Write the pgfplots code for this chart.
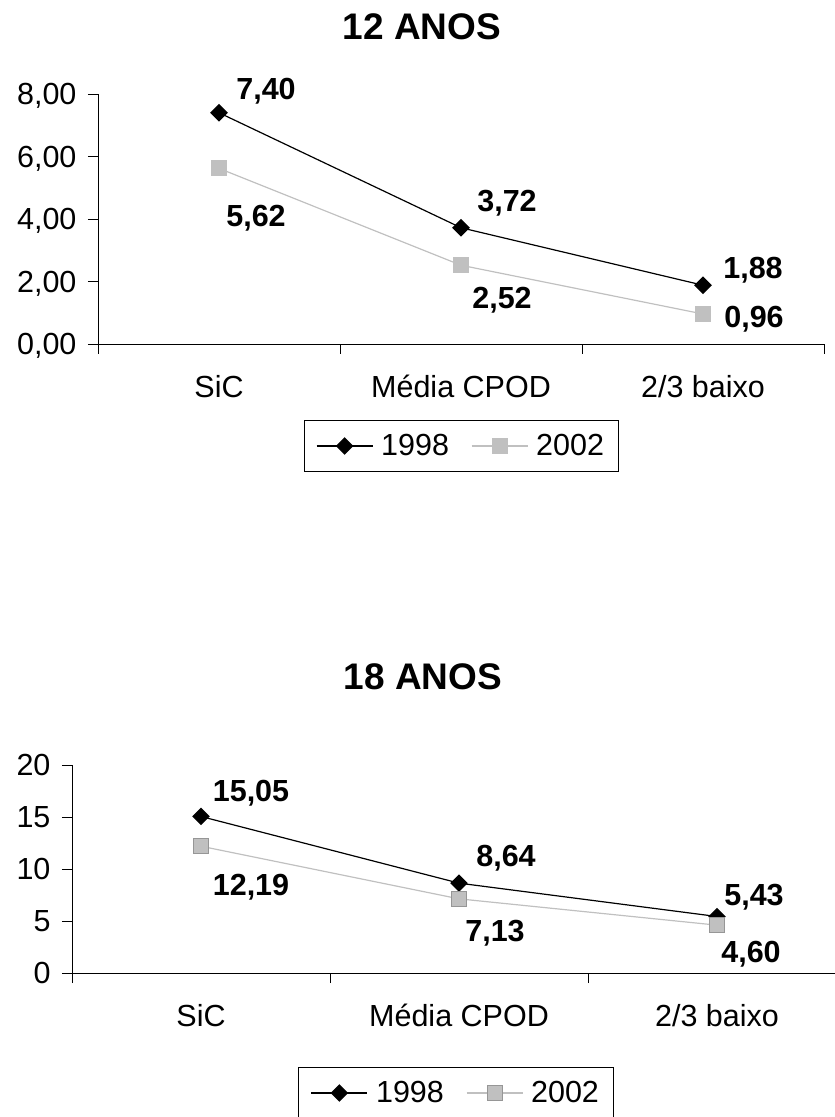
\documentclass[border=0pt]{standalone}
\usepackage{fontspec}
\setmainfont{Liberation Sans}
\usepackage{pgfplots}
\pgfplotsset{compat=1.18}
\usepackage{pgfplotstable}

\definecolor{cinza}{HTML}{C0C0C0}
\definecolor{cinzaborda}{HTML}{969696}

% x: 0 = SiC, 1 = Media CPOD, 2 = 2/3 baixo ; dx dy = label offset
\pgfplotstableread{
x y dx dy
0 7.40 47 24
1 3.72 46 27
2 1.88 50 17
}\dozeA
\pgfplotstableread{
x y dx dy
0 5.62 37 -47
1 2.52 41 -33
2 0.96 51 -3
}\dozeB
\pgfplotstableread{
x y dx dy
0 15.05 50 26
1 8.64 47 27
2 5.43 37 22
}\dezoitoA
\pgfplotstableread{
x y dx dy
0 12.19 50 -39
1 7.13 36 -32
2 4.60 34 -27
}\dezoitoB

\newcommand\fs{\fontsize{30.5}{36}\selectfont}

\pgfplotsset{
  anos/.style={
    scale only axis,
    axis x line*=bottom,
    axis y line*=left,
    xmin=-0.5, xmax=2.5, ymin=0,
    xtick={0,1,2},
    xticklabels={SiC, Média CPOD, 2/3 baixo},
    major x tick style={draw=none},
    minor xtick={-0.5,0.5,1.5,2.5},
    major tick length=10pt,
    minor tick length=10pt,
    tick align=outside,
    tick style={black, line width=0.8pt},
    axis line style={line width=0.8pt},
    every tick label/.append style={font=\fs, text depth=0pt},
    yticklabel style={xshift=-8pt},
    xticklabel style={yshift=-18pt},
    /pgf/number format/assume math mode=true,
    clip=false,
    title style={font=\bfseries\fontsize{37}{44}\selectfont, anchor=center, text depth=0pt},
    legend columns=2,
    legend style={draw=black, line width=0.8pt, font=\fs, anchor=center,
      inner xsep=12pt, inner ysep=12pt,
      /tikz/every odd column/.append style={column sep=6pt},
      /tikz/every even column/.append style={column sep=20pt}},
    legend image code/.code={%
      \draw[mark repeat=2,mark phase=2,##1] plot coordinates {(0pt,0pt) (28pt,0pt) (56pt,0pt)};},
    nodes near coords={\pgfmathprintnumber[fixed,fixed zerofill,precision=2,use comma]{\pgfplotspointmeta}},
    visualization depends on={\thisrow{dx} \as \dx},
    visualization depends on={\thisrow{dy} \as \dy},
    every node near coord/.append style={anchor=center, xshift=\dx pt, yshift=\dy pt,
      font=\bfseries\fs, text depth=0pt, black},
  },
  s98/.style={black, line width=1.2pt, mark=square*, mark size=5.6pt,
    mark options={rotate=45, fill=black, draw=black}},
}

\begin{document}
\begin{tikzpicture}
\useasboundingbox (0pt,0pt) rectangle (835pt,1117pt);

\begin{axis}[anos,
    at={(98pt,773pt)}, anchor=south west,
    width=726pt, height=250pt,
    ymax=8, ytick={0,2,4,6,8},
    yticklabel style={/pgf/number format/.cd, fixed, fixed zerofill, precision=2, use comma},
    title={12 ANOS}, title style={at={(0.446,1.245)}},
    legend style={at={(0.5,-0.408)}},
]
\addplot[s98] table[x=x, y=y] {\dozeA};
\addlegendentry{1998}
\addplot[cinza, line width=1.2pt, mark=square*, mark size=7.5pt,
    mark options={fill=cinza, draw=cinza}] table[x=x, y=y] {\dozeB};
\addlegendentry{2002}
\end{axis}

\begin{axis}[anos,
    at={(72pt,144pt)}, anchor=south west,
    width=774pt, height=208pt,
    ymax=20, ytick={0,5,10,15,20},
    title={18 ANOS}, title style={at={(0.4535,1.395)}},
    legend style={at={(0.496,-0.577)}},
]
\addplot[s98] table[x=x, y=y] {\dezoitoA};
\addlegendentry{1998}
\addplot[cinza, line width=1.2pt, mark=square*, mark size=7.5pt,
    mark options={fill=cinza, draw=cinzaborda, line width=1pt}] table[x=x, y=y] {\dezoitoB};
\addlegendentry{2002}
\end{axis}
\end{tikzpicture}
\end{document}
